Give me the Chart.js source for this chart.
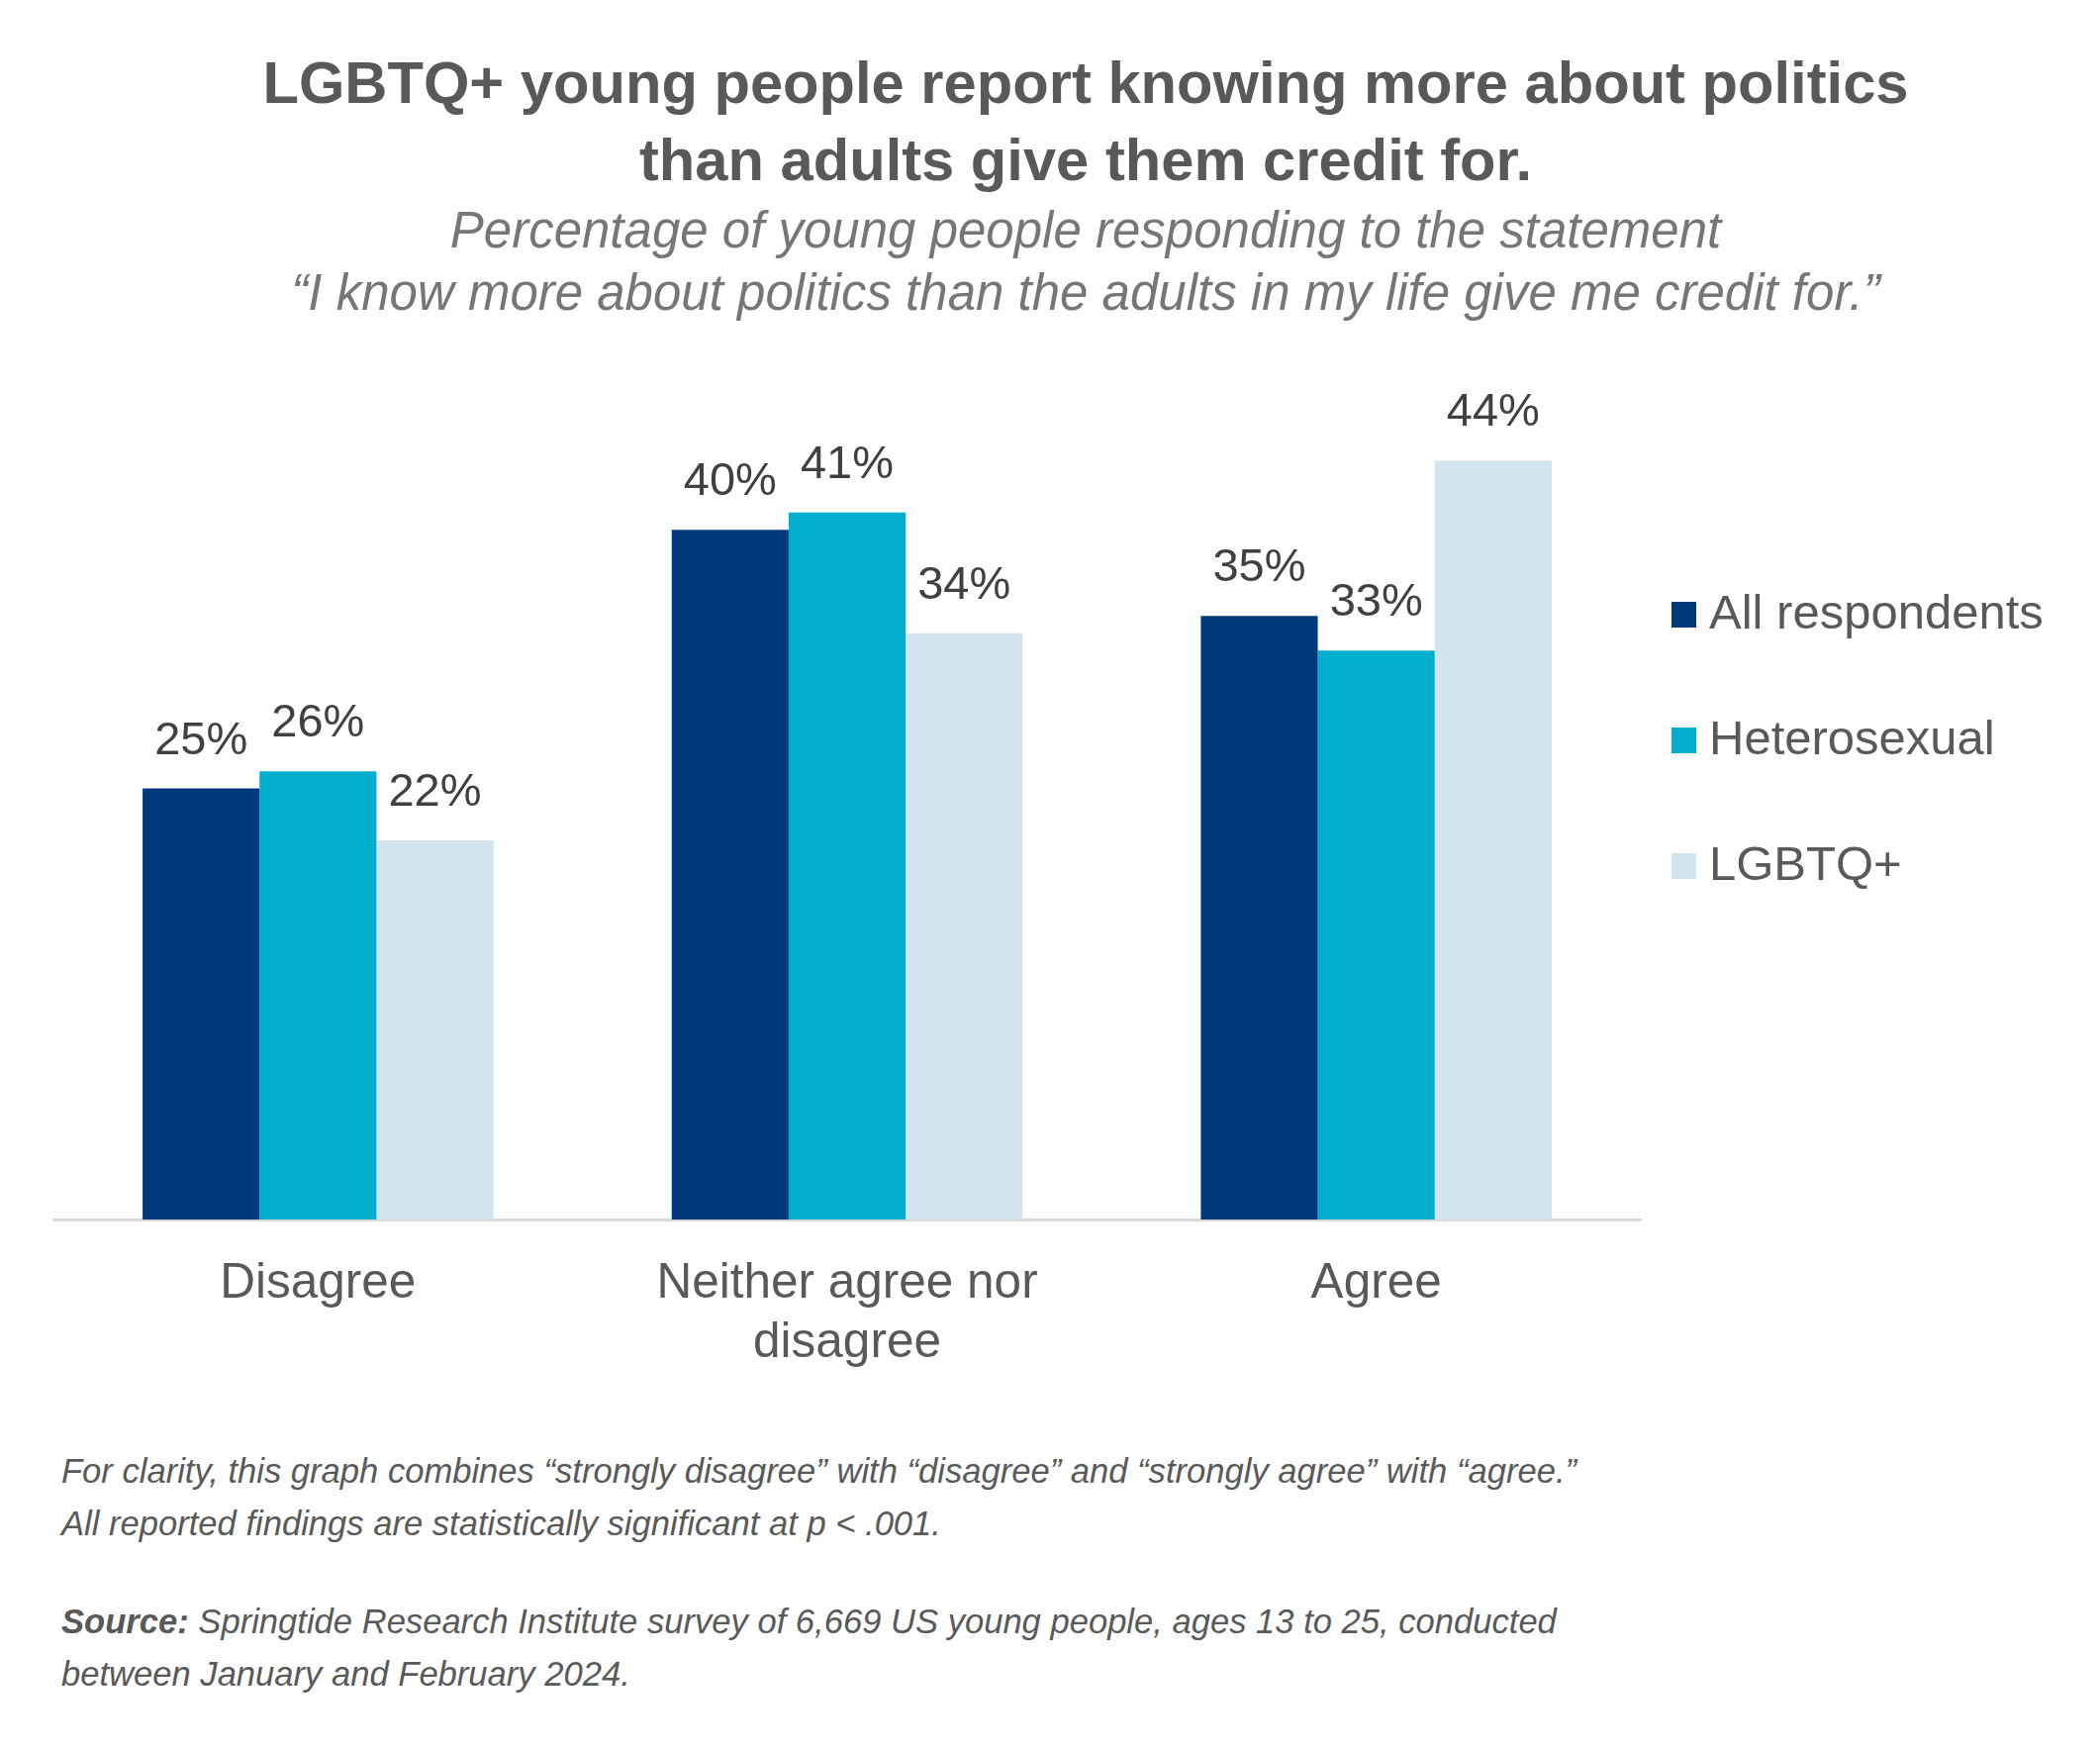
<!DOCTYPE html>
<html>
<head>
<meta charset="utf-8">
<script src="https://cdn.jsdelivr.net/npm/chart.js@4.4.1/dist/chart.umd.min.js"></script>
<style>
    body { margin: 0; background: #ffffff; width: 2122px; height: 1771px; position: relative; overflow: hidden; font-family: "Liberation Sans", Arial, sans-serif; }
    .title { position: absolute; left: 0; top: 45px; width: 2122px; box-sizing: border-box; padding-left: 72px; text-align: center; font-weight: bold; font-size: 59.7px; line-height: 78px; color: #595959; }
    .subtitle { position: absolute; left: 0; top: 201px; width: 2122px; box-sizing: border-box; padding-left: 72px; text-align: center; font-style: italic; font-size: 51px; line-height: 63px; color: #767676; }
    .note { position: absolute; left: 62px; font-style: italic; font-size: 34.6px; line-height: 53px; color: #595959; }
    #chartWrap { position: absolute; left: 0; top: 300px; width: 2122px; height: 1137px; }
</style>
</head>
<body>
<div class="title">LGBTQ+ young people report knowing more about politics<br>than adults give them credit for.</div>
<div class="subtitle">Percentage of young people responding to the statement<br>“I know more about politics than the adults in my life give me credit for.”</div>
<div id="chartWrap"><canvas id="surveyChart" width="2122" height="1137"></canvas></div>
<div class="note" style="top: 1460px;">For clarity, this graph combines “strongly disagree” with “disagree” and “strongly agree” with “agree.”<br>All reported findings are statistically significant at p &lt; .001.</div>
<div class="note" style="top: 1612px;"><b>Source:</b> Springtide Research Institute survey of 6,669 US young people, ages 13 to 25, conducted<br>between January and February 2024.</div>

<script>
// Chart data
const categories = [['Disagree'], ['Neither agree nor', 'disagree'], ['Agree']];
const seriesNames = ['All respondents', 'Heterosexual', 'LGBTQ+'];
const allRespondents = [25, 40, 35];
const heterosexual = [26, 41, 33];
const lgbtq = [22, 34, 44];

const seriesColors = ['#003A7D', '#00AFCE', '#D1E4F0'];
const fontFamily = '"Liberation Sans", Arial, sans-serif';

// Value labels above each bar
const valueLabels = {
    id: 'valueLabels',
    afterDatasetsDraw(chart) {
        const ctx = chart.ctx;
        ctx.save();
        ctx.font = '47px ' + fontFamily;
        ctx.fillStyle = '#404040';
        ctx.textAlign = 'center';
        ctx.textBaseline = 'middle';
        chart.data.datasets.forEach((dataset, i) => {
            chart.getDatasetMeta(i).data.forEach((bar, j) => {
                ctx.fillText(dataset.data[j] + '%', bar.x, bar.y - 48);
            });
        });
        ctx.restore();
    }
};

// Legend on the right, square swatches
const sideLegend = {
    id: 'sideLegend',
    afterDraw(chart) {
        const ctx = chart.ctx;
        const area = chart.chartArea;
        ctx.save();
        ctx.font = '49px ' + fontFamily;
        ctx.textBaseline = 'middle';
        chart.data.datasets.forEach((dataset, i) => {
            const y = area.top + 260 + i * 127;
            ctx.fillStyle = dataset.backgroundColor;
            ctx.fillRect(area.right + 31, y - 13, 25, 26);
            ctx.fillStyle = '#595959';
            ctx.fillText(dataset.label, area.right + 69, y);
        });
        ctx.restore();
    }
};

const ctx = document.getElementById('surveyChart').getContext('2d');
new Chart(ctx, {
    type: 'bar',
    data: {
        labels: categories,
        datasets: [
            { label: seriesNames[0], data: allRespondents, backgroundColor: seriesColors[0] },
            { label: seriesNames[1], data: heterosexual, backgroundColor: seriesColors[1] },
            { label: seriesNames[2], data: lgbtq, backgroundColor: seriesColors[2] }
        ]
    },
    options: {
        responsive: false,
        animation: false,
        devicePixelRatio: 1,
        categoryPercentage: 0.663,
        barPercentage: 1.0,
        layout: {
            padding: { left: 54, right: 464, top: 61, bottom: 15 }
        },
        scales: {
            x: {
                grid: { display: false, drawTicks: false },
                border: { display: true, color: '#D9D9D9', width: 3 },
                ticks: {
                    padding: 35,
                    maxRotation: 0,
                    autoSkip: false,
                    color: '#595959',
                    font: { family: fontFamily, size: 49.5, lineHeight: 1.21 }
                }
            },
            y: {
                display: false,
                min: 0,
                max: 50
            }
        },
        plugins: {
            legend: { display: false },
            tooltip: { enabled: false }
        }
    },
    plugins: [valueLabels, sideLegend]
});
</script>
</body>
</html>
